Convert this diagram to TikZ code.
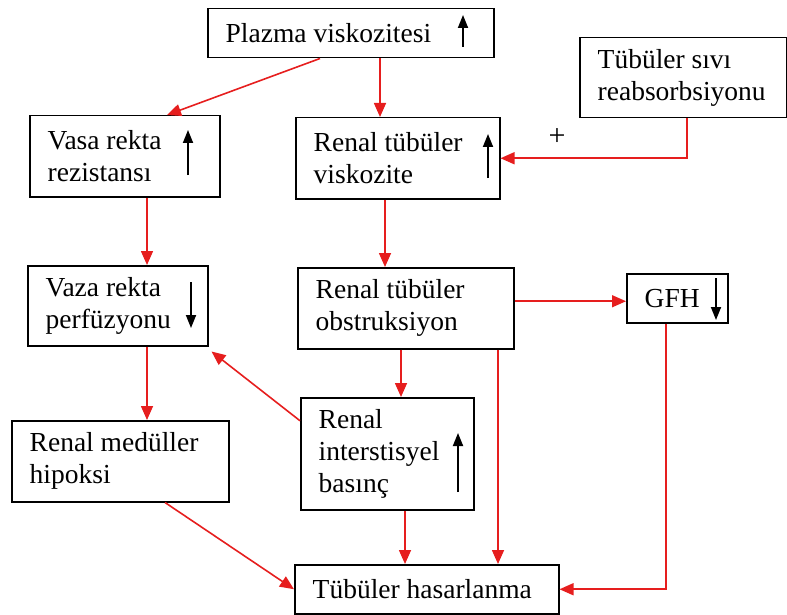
\documentclass[tikz,border=0pt]{standalone}
\usepackage{fontspec}
\setmainfont{Liberation Serif}
\usetikzlibrary{arrows.meta,calc}
\definecolor{cred}{RGB}{230,30,30}
\begin{document}
\begin{tikzpicture}[x=1pt,y=-1pt,
 box/.style={draw=black,line width=1.5pt,inner sep=0pt,anchor=north west,fill=white},
 txt/.style={anchor=west,align=left,inner sep=0pt,font=\fontsize{27.5}{32}\selectfont},
 conn/.style={draw=cred,line width=1.6pt,-{Triangle[length=14pt,width=12pt]}},
 sym/.style={draw=black,line width=1.8pt,-{Triangle[length=13pt,width=10pt]}}]
\useasboundingbox (0,0) rectangle (787,615);
% boxes
\node[box,minimum width=286pt,minimum height=49pt] (P) at (207,8) {};
\node[box,minimum width=190pt,minimum height=81pt] (VR) at (29,115) {};
\node[box,minimum width=204pt,minimum height=81pt] (RV) at (295,117) {};
\node[box,minimum width=207pt,minimum height=80pt] (TS) at (579,37) {};
\node[box,minimum width=180pt,minimum height=80pt] (VP) at (27,265) {};
\node[box,minimum width=216pt,minimum height=81pt] (RO) at (297,267) {};
\node[box,minimum width=101pt,minimum height=49pt] (G) at (626,273) {};
\node[box,minimum width=217pt,minimum height=81pt] (RH) at (11,420) {};
\node[box,minimum width=173pt,minimum height=112pt] (RI) at (300,397) {};
\node[box,minimum width=264pt,minimum height=49pt] (TH) at (294,564) {};
% texts
\node[txt] (Pt) at ([xshift=18.5pt]P.west) {Plazma viskozitesi};
\node[txt] (VRt) at ([xshift=18.5pt]VR.west) {Vasa rekta\\rezistansı};
\node[txt] (RVt) at ([xshift=18.5pt]RV.west) {Renal tübüler\\viskozite};
\node[txt] (TSt) at ([xshift=18.5pt]TS.west) {Tübüler sıvı\\reabsorbsiyonu};
\node[txt] (VPt) at ([xshift=18.5pt]VP.west) {Vaza rekta\\perfüzyonu};
\node[txt] (ROt) at ([xshift=18.5pt]RO.west) {Renal tübüler\\obstruksiyon};
\node[txt] (Gt) at ([xshift=18.5pt]G.west) {GFH};
\node[txt] (RHt) at ([xshift=18.5pt]RH.west) {Renal medüller\\hipoksi};
\node[txt] (RIt) at ([xshift=18.5pt]RI.west) {Renal\\interstisyel\\basınç};
\node[txt] (THt) at ([xshift=18.5pt]TH.west) {Tübüler hasarlanma};
\node[inner sep=0pt,font=\fontsize{30}{32}\selectfont] (plus) at (557,137) {+};
% up/down symbols
\draw[sym] (463,47) -- (463,15);
\draw[sym] (188,175) -- (188,130);
\draw[sym] (488,178) -- (488,134);
\draw[sym] (191,282) -- (191,328);
\draw[sym] (716,278) -- (716,320);
\draw[sym] (458,492) -- (458,433);
% connectors
\draw[conn] ([xshift=113pt]P.south west) -- ([xshift=138pt]VR.north west);
\draw[conn] ([xshift=173pt]P.south west) -- ([xshift=173pt]P.south west |- RV.north);
\draw[conn] ([xshift=108pt]TS.south west) |- (RV.east);
\draw[conn] ([xshift=118pt]VR.south west) -- ([xshift=118pt]VR.south west |- VP.north);
\draw[conn] ([xshift=90pt]RV.south west) -- ([xshift=90pt]RV.south west |- RO.north);
\draw[conn] ([yshift=-3pt]RO.east |- G.west) -- ([yshift=-3pt]G.west);
\draw[conn] ([xshift=104pt]RO.south west) -- ([xshift=104pt]RO.south west |- RI.north);
\draw[conn] ([xshift=201pt]RO.south west) -- ([xshift=201pt]RO.south west |- TH.north);
\draw[conn] ([xshift=40pt]G.south west) |- (TH.east);
\draw[conn] ([xshift=120pt]VP.south west) -- ([xshift=120pt]VP.south west |- RH.north);
\draw[conn] ([yshift=33pt]RI.west) -- ([xshift=3pt,yshift=-5pt]VP.south east);
\draw[conn] ([xshift=154pt]RH.south west) -- (TH.west);
\draw[conn] ([xshift=105pt]RI.south west) -- ([xshift=105pt]RI.south west |- TH.north);
\end{tikzpicture}
\end{document}
